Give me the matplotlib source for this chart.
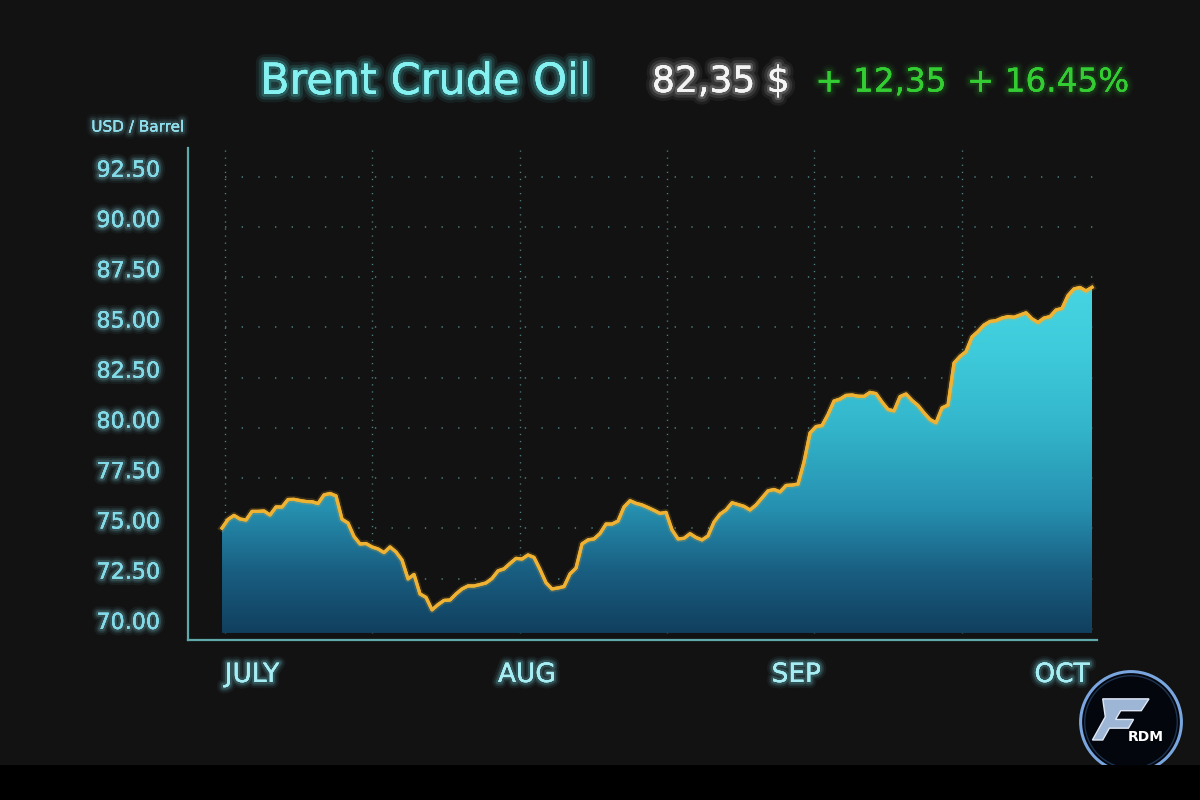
import numpy as np
import matplotlib
matplotlib.use("Agg")
import matplotlib.pyplot as plt
import matplotlib.patheffects as pe
from matplotlib.colors import LinearSegmentedColormap
from matplotlib.patches import Polygon, Circle, Rectangle
from matplotlib.transforms import ScaledTranslation

# ---------------- data ----------------
prices = [
    75.02, 75.45, 75.65, 75.47, 75.42, 75.85, 75.85, 75.87, 75.67, 76.07,
    76.07, 76.44, 76.45, 76.39, 76.34, 76.33, 76.24, 76.67, 76.74, 76.62,
    75.46, 75.27, 74.60, 74.23, 74.25, 74.08, 73.98, 73.80, 74.08, 73.83,
    73.43, 72.49, 72.71, 71.74, 71.57, 70.95, 71.21, 71.42, 71.44, 71.74,
    71.99, 72.14, 72.14, 72.21, 72.29, 72.51, 72.89, 72.99, 73.26, 73.51,
    73.48, 73.68, 73.56, 72.96, 72.30, 71.99, 72.04, 72.11, 72.74, 73.03,
    74.23, 74.43, 74.48, 74.75, 75.22, 75.22, 75.37, 76.07, 76.38, 76.25,
    76.17, 76.04, 75.90, 75.75, 75.80, 74.93, 74.48, 74.51, 74.74, 74.55,
    74.43, 74.63, 75.32, 75.71, 75.92, 76.28, 76.19, 76.10, 75.92, 76.17,
    76.52, 76.87, 76.94, 76.82, 77.14, 77.16, 77.21, 78.31, 79.75, 80.07,
    80.12, 80.67, 81.34, 81.44, 81.62, 81.64, 81.58, 81.57, 81.77, 81.71,
    81.29, 80.92, 80.85, 81.56, 81.69, 81.37, 81.12, 80.75, 80.42, 80.26,
    81.00, 81.14, 83.23, 83.56, 83.80, 84.53, 84.80, 85.12, 85.30, 85.34,
    85.47, 85.54, 85.51, 85.62, 85.73, 85.43, 85.25, 85.47, 85.54, 85.87,
    85.95, 86.59, 86.92, 86.99, 86.82, 87.00,
]
y_ticks = [70.0, 72.5, 75.0, 77.5, 80.0, 82.5, 85.0, 87.5, 90.0, 92.5]
month_labels = ["JULY", "AUG", "SEP", "OCT"]
month_pos = [5.0, 50.8, 95.7, 140.0]
vgrid_pos = [0.5, 25.0, 49.7, 74.2, 98.7, 123.3]

title = "Brent Crude Oil"
price_txt = "82,35 $"
change_txt = "+ 12,35"
pct_txt = "+ 16.45%"
unit_txt = "USD / Barrel"

# ---------------- style ----------------
BG = "#121212"
CYAN_TXT = "#84dbe8"
fill_base = 69.8

def glow(color, widths=(9, 6, 3.5), alphas=(0.06, 0.10, 0.18)):
    return [pe.withStroke(linewidth=w, foreground=color, alpha=a)
            for w, a in zip(widths, alphas)] + [pe.Normal()]

plt.rcParams['font.family'] = ['DejaVu Sans']
fig = plt.figure(figsize=(12, 8), dpi=100, facecolor=BG)

# bottom black strip
fig.patches.append(Rectangle((0, 0), 1, 35 / 800, transform=fig.transFigure,
                             facecolor="#000000", edgecolor="none", zorder=0))

ax = fig.add_axes([188 / 1200, 160 / 800, (1097 - 188) / 1200, (640 - 148) / 800])
ax.set_facecolor(BG)

x = np.arange(len(prices))
y = np.array(prices)
ax.set_xlim(-5.67, 145.83)
ax.set_ylim(69.45, 93.93)

# grid (dotted)
grid_col = "#4d8080"
for v in y_ticks:
    ax.plot([vgrid_pos[0], 145.83], [v, v], color=grid_col, lw=1.1,
            linestyle=(0, (0.9, 10.0)), zorder=1)
for gx in vgrid_pos:
    ax.plot([gx, gx], [69.45, 93.93], color=grid_col, lw=1.0,
            linestyle=(0, (0.9, 4.2)), zorder=1)

# gradient area fill
cmap = LinearSegmentedColormap.from_list(
    "oil",
    [(0.0, "#113f5e"), (0.18, "#195f82"), (0.36, "#2690b0"),
     (0.6, "#33b6cc"), (0.82, "#3ecbdb"), (1.0, "#46d4e2")])
top = y.max()
grad = np.linspace(0, 1, 256).reshape(-1, 1)
im = ax.imshow(grad, extent=[x[0], x[-1], fill_base, top], origin="lower",
               aspect="auto", cmap=cmap, zorder=2, interpolation="bicubic")
verts = [(x[0], fill_base)] + list(zip(x, y)) + [(x[-1], fill_base)]
poly = Polygon(verts, closed=True, facecolor="none", edgecolor="none",
               transform=ax.transData)
ax.add_patch(poly)
im.set_clip_path(poly)
ax.set_xlim(-5.67, 145.83)
ax.set_ylim(69.45, 93.93)

# price line
ax.plot(x, y, color="#f0b232", lw=2.3, zorder=4, solid_joinstyle="round",
        path_effects=[pe.withStroke(linewidth=5, foreground="#f0b232", alpha=0.18),
                      pe.Normal()])

# spines
for s in ["top", "right"]:
    ax.spines[s].set_visible(False)
for s in ["left", "bottom"]:
    ax.spines[s].set_color("#5fa9ab")
    ax.spines[s].set_linewidth(1.6)
ax.set_xticks([])
ax.set_yticks([])

# y labels (manual, slightly raised)
ytrans = ax.get_yaxis_transform() + ScaledTranslation(0, 6 / 100, fig.dpi_scale_trans)
for v in y_ticks:
    ax.text(-0.0305, v, f"{v:.2f}", transform=ytrans, ha="right", va="center",
            fontsize=16, color=CYAN_TXT, path_effects=glow(CYAN_TXT), clip_on=False)

# month labels
xtrans = ax.get_xaxis_transform()
for p, lab in zip(month_pos, month_labels):
    ax.text(p, -0.0711, lab, transform=xtrans, ha="center", va="center",
            fontsize=19, color="#a6eef4", path_effects=glow("#7fe6f0"), clip_on=False)

# unit label
fig.text(138 / 1200, 1 - 127 / 800, unit_txt, ha="center", va="center",
         fontsize=11, color="#8fdcea", path_effects=glow("#8fdcea", alphas=(0.04, 0.07, 0.12)))

# header texts
hy = 1 - 82 / 800
fig.text(425 / 1200, hy, title, ha="center", va="center", fontsize=31,
         color="#86f1f1", path_effects=glow("#5ff0f0", widths=(12, 8, 4), alphas=(0.07, 0.12, 0.2)))
fig.text(721 / 1200, hy, price_txt, ha="center", va="center", fontsize=26,
         color="#f4f4f4", path_effects=glow("#ffffff", widths=(12, 8, 4), alphas=(0.06, 0.1, 0.18)))
fig.text(881 / 1200, hy, change_txt, ha="center", va="center", fontsize=23.5,
         color="#33cc33", path_effects=glow("#33cc33", alphas=(0.04, 0.06, 0.1)))
fig.text(1048 / 1200, hy, pct_txt, ha="center", va="center", fontsize=23.5,
         color="#33cc33", path_effects=glow("#33cc33", alphas=(0.04, 0.06, 0.1)))

# logo badge
lax = fig.add_axes([1077 / 1200, (800 - 776) / 800, 108 / 1200, 108 / 800])
lax.set_xlim(-1.05, 1.05)
lax.set_ylim(-1.05, 1.05)
lax.set_aspect("equal")
lax.axis("off")
lax.add_patch(Circle((0, 0), 0.98, facecolor="#03060c", edgecolor="#7aa6e0", lw=2.2))
lax.add_patch(Circle((0, 0), 0.90, facecolor="none", edgecolor="#1e3350", lw=1.0))
emblem = [(-0.55, 0.45), (0.35, 0.45), (0.2, 0.22), (-0.2, 0.22), (-0.3, 0.05),
          (0.05, 0.05), (-0.05, -0.12), (-0.42, -0.12), (-0.55, -0.35), (-0.75, -0.35),
          (-0.5, 0.1)]
lax.add_patch(Polygon(emblem, closed=True, facecolor="#9db6d6", edgecolor="#dfe8f5", lw=1.0))
lax.text(0.28, -0.3, "RDM", ha="center", va="center", fontsize=10, fontweight="bold",
         color="#ffffff")

fig.savefig("out.png", dpi=100, facecolor=BG)
